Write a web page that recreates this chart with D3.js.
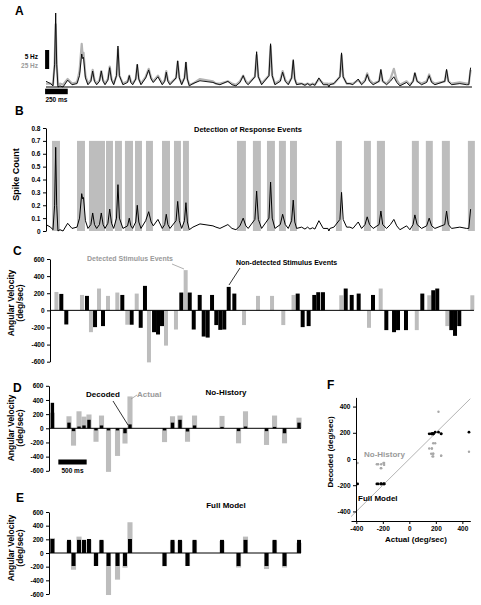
<!DOCTYPE html>
<html><head><meta charset="utf-8">
<script src="https://cdn.jsdelivr.net/npm/d3@7"></script>
<style>
body{margin:0;background:#fff}
svg{display:block}
text{font-family:"Liberation Sans",Arial,Helvetica,sans-serif}
</style>
</head><body>
<svg id="fig" width="481" height="605"></svg>
<script>
// ---------------- DATA ----------------
// Panel A/B trace: [time ms, spike count (black), model rate (grey, panel A)]
const spikeTrace = [
 [0,0.05,0.03],[50,0.03,0.03],[77,0.01,0.02],[95,0.2,0.2],[107,0.65,0.55],[118,0.2,0.2],[132,0.0,0.02],
 [154,0.01,0.03],[188,0.0,0.02],[239,0.06,0.07],[287,0.02,0.03],[342,0.03,0.04],[370,0.1,0.14],
 [394,0.29,0.38],[404,0.25,0.28],[414,0.26,0.30],[435,0.08,0.10],[463,0.02,0.03],[495,0.05,0.06],
 [515,0.14,0.15],[535,0.05,0.06],[559,0.02,0.03],[590,0.05,0.06],[610,0.14,0.14],[630,0.05,0.06],
 [651,0.02,0.03],[683,0.06,0.07],[703,0.17,0.18],[723,0.06,0.07],[747,0.02,0.03],[778,0.1,0.1],
 [794,0.36,0.33],[810,0.1,0.1],[849,0.02,0.03],[900,0.04,0.05],[919,0.10,0.10],[936,0.04,0.05],
 [956,0.02,0.03],[990,0.07,0.07],[1007,0.20,0.19],[1024,0.07,0.07],[1048,0.02,0.03],[1100,0.08,0.09],
 [1133,0.15,0.16],[1160,0.07,0.08],[1184,0.04,0.05],[1235,0.09,0.10],[1283,0.02,0.03],[1310,0.05,0.06],
 [1327,0.13,0.14],[1345,0.05,0.06],[1368,0.02,0.03],[1435,0.08,0.08],[1453,0.23,0.22],[1471,0.08,0.08],
 [1497,0.02,0.03],[1528,0.08,0.08],[1544,0.22,0.21],[1560,0.07,0.07],[1581,0.01,0.02],[1621,0.03,0.03],
 [1699,0.055,0.07],[1842,0.04,0.05],[1875,0.03,0.03],[1919,0.02,0.03],[2007,0.05,0.05],[2052,0.02,0.03],
 [2096,0.01,0.02],[2140,0.04,0.05],[2176,0.10,0.10],[2205,0.04,0.05],[2231,0.02,0.03],[2305,0.09,0.09],
 [2324,0.31,0.28],[2343,0.09,0.09],[2379,0.02,0.03],[2460,0.1,0.1],[2478,0.38,0.36],[2496,0.1,0.1],
 [2526,0.02,0.03],[2585,0.05,0.06],[2611,0.13,0.14],[2640,0.05,0.06],[2673,0.02,0.03],[2710,0.08,0.08],
 [2728,0.24,0.22],[2745,0.07,0.07],[2765,0.02,0.03],[2820,0.03,0.03],[2857,0.015,0.02],[2886,0.03,0.03],
 [2912,0.015,0.02],[2942,0.025,0.03],[2967,0.015,0.02],[3011,0.08,0.07],[3059,0.02,0.03],[3110,0.02,0.03],
 [3121,0.0,0.02],[3133,0.02,0.03],[3177,0.03,0.03],[3243,0.09,0.09],[3261,0.30,0.28],[3279,0.09,0.09],
 [3317,0.03,0.03],[3353,0.03,0.03],[3386,0.02,0.03],[3445,0.07,0.06],[3482,0.02,0.03],[3520,0.05,0.06],
 [3544,0.11,0.12],[3570,0.05,0.06],[3610,0.02,0.03],[3675,0.05,0.05],[3695,0.155,0.14],[3715,0.05,0.05],
 [3758,0.02,0.03],[3800,0.05,0.07],[3838,0.09,0.16],[3870,0.04,0.06],[3905,0.01,0.02],[3979,0.04,0.05],
 [4015,0.01,0.02],[4050,0.05,0.05],[4070,0.125,0.12],[4095,0.05,0.05],[4144,0.02,0.03],[4200,0.04,0.05],
 [4228,0.10,0.11],[4255,0.04,0.05],[4291,0.02,0.03],[4400,0.05,0.05],[4420,0.155,0.14],[4440,0.05,0.05],
 [4475,0.02,0.03],[4566,0.03,0.04],[4640,0.02,0.03],[4665,0.02,0.03],[4685,0.17,0.15]
];
// Panel B: response-event detection windows [start ms, end ms]
const detectionWindows = [
 [66,154],[342,430],[474,651],[662,739],[761,838],[871,960],[982,1059],[1103,1180],[1280,1368],
 [1412,1489],[1511,1577],[2107,2206],[2283,2371],[2438,2526],[2570,2647],[2692,2769],[3199,3265],
 [3508,3585],[3651,3740],[4037,4114],[4191,4268],[4368,4456],[4655,4732]
];
// Panel C: stimulus events [time ms, angular velocity deg/s, detected (1) / non-detected (0)]
const stimulusEvents = [
 [115,215,1],[169,192,0],[224,-165,0],[397,180,1],[452,169,0],[496,-255,1],[541,-196,0],[585,255,1],
 [629,-184,0],[684,169,1],[787,208,1],[842,180,0],[897,-168,1],[945,-168,0],[1001,196,1],[1045,-204,0],
 [1092,286,0],[1136,-608,1],[1192,-255,0],[1236,-282,0],[1280,-184,0],[1324,-412,1],[1434,-224,1],
 [1493,208,0],[1541,470,1],[1586,208,0],[1630,-224,0],[1696,180,0],[1740,-306,0],[1784,-318,0],
 [1832,180,0],[1879,-172,0],[1923,-228,0],[1967,-224,0],[2016,274,0],[2078,196,0],[2185,-172,1],
 [2339,169,1],[2494,169,1],[2618,-172,1],[2731,180,1],[2777,196,0],[2832,-196,0],[2898,-184,0],
 [2960,180,0],[3004,212,0],[3056,212,0],[3258,176,1],[3307,255,0],[3373,180,0],[3450,196,0],
 [3564,-204,1],[3608,180,0],[3693,255,1],[3755,-231,0],[3840,-255,0],[3884,-231,0],[3972,-231,0],
 [4091,-231,1],[4152,196,0],[4229,176,1],[4273,235,0],[4317,255,0],[4428,-184,1],[4472,-231,0],
 [4513,-298,0],[4560,-184,0],[4704,176,1]
];
// Panels D/E/F: decoded events [time ms, actual, decoded no-history, decoded full model]
const decodeEvents = [
 [60,220,360,205],[353,170,80,192],[433,-245,-40,-190],[530,240,25,192],[618,165,40,192],
 [706,195,120,205],[830,-190,-30,-190],[927,180,40,192],[1051,-615,-30,-190],[1210,-390,-30,-190],
 [1342,-215,-70,-190],[1430,450,55,205],[2040,-195,-30,-190],[2181,170,80,192],[2313,180,120,192],
 [2446,-190,-45,-190],[2570,180,40,192],[3055,175,20,192],[3347,-212,-40,-190],[3470,240,25,192],
 [3841,-235,-40,-190],[3983,180,20,192],[4159,-212,-70,-190],[4415,150,80,192]
];
const spikeTicks = [0,0.1,0.2,0.3,0.4,0.5,0.6,0.7,0.8];
const velocityTicks = [600,400,200,0,-200,-400,-600];
const scatterTicks = [-400,-200,0,200,400];

// ---------------- SCALES ----------------
const svg = d3.select('#fig');
const BLACK = '#000', GREY = '#bdbdbd', GREYTXT = '#9a9a9a';
const xT = d3.scaleLinear().domain([0,4750]).range([46,476.5]);
const yA = d3.scaleLinear().domain([0,0.65]).range([87,13]);
const yB = d3.scaleLinear().domain([0,0.8]).range([231,128]);
const yC = d3.scaleLinear().domain([-600,600]).range([361.7,259]);
const xD = d3.scaleLinear().domain([0,4450]).range([49,301]);
const yD = d3.scaleLinear().domain([-600,600]).range([470.8,385.8]);
const yE = d3.scaleLinear().domain([-600,600]).range([594,512]);
const xF = d3.scaleLinear().domain([-440,460]).range([351,470.3]);
const yF = d3.scaleLinear().domain([-470,470]).range([520.6,397.4]);

function txt(x,y,s,o={}){
  const t = svg.append('text').attr('x',x).attr('y',y).text(s)
    .attr('font-size',o.size||8).attr('font-weight',o.weight||'bold')
    .attr('fill',o.fill||BLACK).attr('text-anchor',o.anchor||'start');
  if(o.rotate) t.attr('transform',`rotate(${o.rotate},${x},${y})`);
  return t;
}
function styleAxis(g){
  g.attr('font-family',null).attr('font-size',null);
  g.selectAll('text').attr('font-size',6.5).attr('font-weight','bold').attr('fill',BLACK)
    .attr('font-family','"Liberation Sans",Arial,sans-serif');
  g.selectAll('line').attr('stroke',BLACK);
  g.select('.domain').attr('stroke',BLACK);
}
function leftAxis(scale,x,ticks,fmt){
  svg.append('g').attr('transform',`translate(${x},0)`)
    .call(d3.axisLeft(scale).tickValues(ticks).tickSize(3).tickSizeOuter(0).tickPadding(2.5).tickFormat(fmt))
    .call(styleAxis);
}
function line(x1,y1,x2,y2,c,w){
  svg.append('line').attr('x1',x1).attr('y1',y1).attr('x2',x2).attr('y2',y2)
    .attr('stroke',c).attr('stroke-width',w||0.8);
}

// ---------------- PANEL A ----------------
txt(15,15,'A',{size:12});
const lineA = col => d3.line().x(d=>xT(d[0])).y(d=>yA(d[col]));
svg.append('path').datum(spikeTrace).attr('d',lineA(2)).attr('fill','none')
  .attr('stroke','#b4b4b4').attr('stroke-width',2.2).attr('stroke-linejoin','round');
svg.append('path').datum(spikeTrace).attr('d',lineA(1)).attr('fill','none')
  .attr('stroke',BLACK).attr('stroke-width',0.9).attr('stroke-linejoin','round');
line(xT(0),yA(0),xT(4700),yA(0),BLACK,1);
// rate scale bar
svg.append('rect').attr('x',xT(-10)).attr('y',yA(0.325)).attr('width',xT(45)-xT(0)).attr('height',yA(0.158)-yA(0.325)).attr('fill',BLACK);
txt(38,58.5,'5 Hz',{size:6.5,anchor:'end'});
txt(38,67.5,'25 Hz',{size:6.5,anchor:'end',fill:GREYTXT});
// time scale bar 250 ms
svg.append('rect').attr('x',xT(-10)).attr('y',88.7).attr('width',xT(250)-xT(0)).attr('height',5.5).attr('fill',BLACK);
txt(xT(115),102,'250 ms',{size:6.5,anchor:'middle'});

// ---------------- PANEL B ----------------
txt(15,115,'B',{size:12});
svg.append('g').selectAll('rect').data(detectionWindows).join('rect')
  .attr('x',d=>xT(d[0])).attr('width',d=>xT(d[1])-xT(d[0]))
  .attr('y',yB(0.7)).attr('height',yB(0)-yB(0.7)).attr('fill',GREY);
svg.append('path').datum(spikeTrace)
  .attr('d',d3.line().x(d=>xT(d[0])).y(d=>yB(d[1])))
  .attr('fill','none').attr('stroke',BLACK).attr('stroke-width',1).attr('stroke-linejoin','round');
leftAxis(yB,46,spikeTicks,d=>String(d));
txt(19,174.5,'Spike Count',{size:9,anchor:'middle',rotate:-90});
txt(248,132,'Detection of Response Events',{size:7.5,anchor:'middle'});

// ---------------- PANEL C ----------------
txt(13,255,'C',{size:12});
const wC = xT(44)-xT(0);
svg.append('g').selectAll('rect').data(stimulusEvents).join('rect')
  .attr('x',d=>xT(d[0])-wC/2).attr('width',wC)
  .attr('y',d=>yC(Math.max(0,d[1]))).attr('height',d=>Math.abs(yC(d[1])-yC(0)))
  .attr('fill',d=>d[2]?GREY:BLACK);
line(50,yC(0),xT(4722),yC(0),BLACK,1);
leftAxis(yC,50,velocityTicks,d=>String(d));
txt(13.5,303,'Angular Velocity',{size:8.5,anchor:'middle',rotate:-90});
txt(22.5,303,'(deg/sec)',{size:8.5,anchor:'middle',rotate:-90});
txt(130,261,'Detected Stimulus Events',{size:7,anchor:'middle',fill:GREYTXT});
line(172,264,184,269,GREYTXT,0.8);
txt(236,265,'Non-detected Stimulus Events',{size:7});
line(240,268,229,285,BLACK,0.8);

// ---------------- PANELS D & E ----------------
const wAct = xD(90)-xD(0);
function decodePanel(yS, col, decW){
  const wDec = xD(decW)-xD(0);
  svg.append('g').selectAll('rect').data(decodeEvents).join('rect')
    .attr('x',d=>xD(d[0])-wAct/2).attr('width',wAct)
    .attr('y',d=>yS(Math.max(0,d[1]))).attr('height',d=>Math.abs(yS(d[1])-yS(0)))
    .attr('fill',GREY);
  svg.append('g').selectAll('rect').data(decodeEvents).join('rect')
    .attr('x',d=>xD(d[0])-wDec/2).attr('width',wDec)
    .attr('y',d=>yS(Math.max(0,d[col]))).attr('height',d=>Math.abs(yS(d[col])-yS(0)))
    .attr('fill',BLACK);
  line(xD(0),yS(0),xD(4450),yS(0),BLACK,1);
  leftAxis(yS,49,velocityTicks,d=>String(d));
}
txt(13,392,'D',{size:12});
decodePanel(yD,2,60);
txt(13.5,428,'Angular Velocity',{size:8.5,anchor:'middle',rotate:-90});
txt(22.5,428,'(deg/sec)',{size:8.5,anchor:'middle',rotate:-90});
txt(103,397,'Decoded',{size:8,anchor:'middle'});
line(113,401,128,425,BLACK,0.8);
txt(137,397,'Actual',{size:8,fill:GREYTXT});
line(131,399,137,395,GREYTXT,0.8);
txt(226,395,'No-History',{size:8,anchor:'middle'});
svg.append('rect').attr('x',xD(165)).attr('y',459.5).attr('width',xD(500)-xD(0)).attr('height',5).attr('fill',BLACK);
txt(xD(415),473,'500 ms',{size:6.5,anchor:'middle'});

txt(16,502,'E',{size:12});
decodePanel(yE,3,70);
txt(13.5,548,'Angular Velocity',{size:8.5,anchor:'middle',rotate:-90});
txt(22.5,548,'(deg/sec)',{size:8.5,anchor:'middle',rotate:-90});
txt(226,508,'Full Model',{size:8,anchor:'middle'});

// ---------------- PANEL F ----------------
txt(327,389,'F',{size:12});
const inF = (a,b)=> a>=xF.domain()[0] && a<=xF.domain()[1] && b>=yF.domain()[0] && b<=yF.domain()[1];
line(xF(-440),yF(-440),xF(460),yF(460),'#a0a0a0',0.8);
svg.append('g').selectAll('circle').data(decodeEvents.filter(d=>inF(d[1],d[2]))).join('circle')
  .attr('cx',d=>xF(d[1])).attr('cy',d=>yF(d[2])).attr('r',1.2).attr('fill','#a8a8a8');
svg.append('g').selectAll('circle').data(decodeEvents.filter(d=>inF(d[1],d[3]))).join('circle')
  .attr('cx',d=>xF(d[1])).attr('cy',d=>yF(d[3])).attr('r',1.4).attr('fill',BLACK);
svg.append('g').attr('transform','translate(0,521)')
  .call(d3.axisBottom(xF).tickValues(scatterTicks).tickSize(3).tickSizeOuter(0).tickPadding(2).tickFormat(d=>String(d)))
  .call(styleAxis);
svg.append('g').attr('transform','translate(356,0)')
  .call(d3.axisLeft(yF).tickValues(scatterTicks).tickSize(3).tickSizeOuter(0).tickPadding(2.5).tickFormat(d=>String(d)))
  .call(styleAxis);
txt(364,457,'No-History',{size:8,fill:GREYTXT});
txt(358,501,'Full Model',{size:8});
txt(416,542,'Actual (deg/sec)',{size:8,anchor:'middle'});
txt(333,452,'Decoded (deg/sec)',{size:8,anchor:'middle',rotate:-90});
</script>
</body></html>
